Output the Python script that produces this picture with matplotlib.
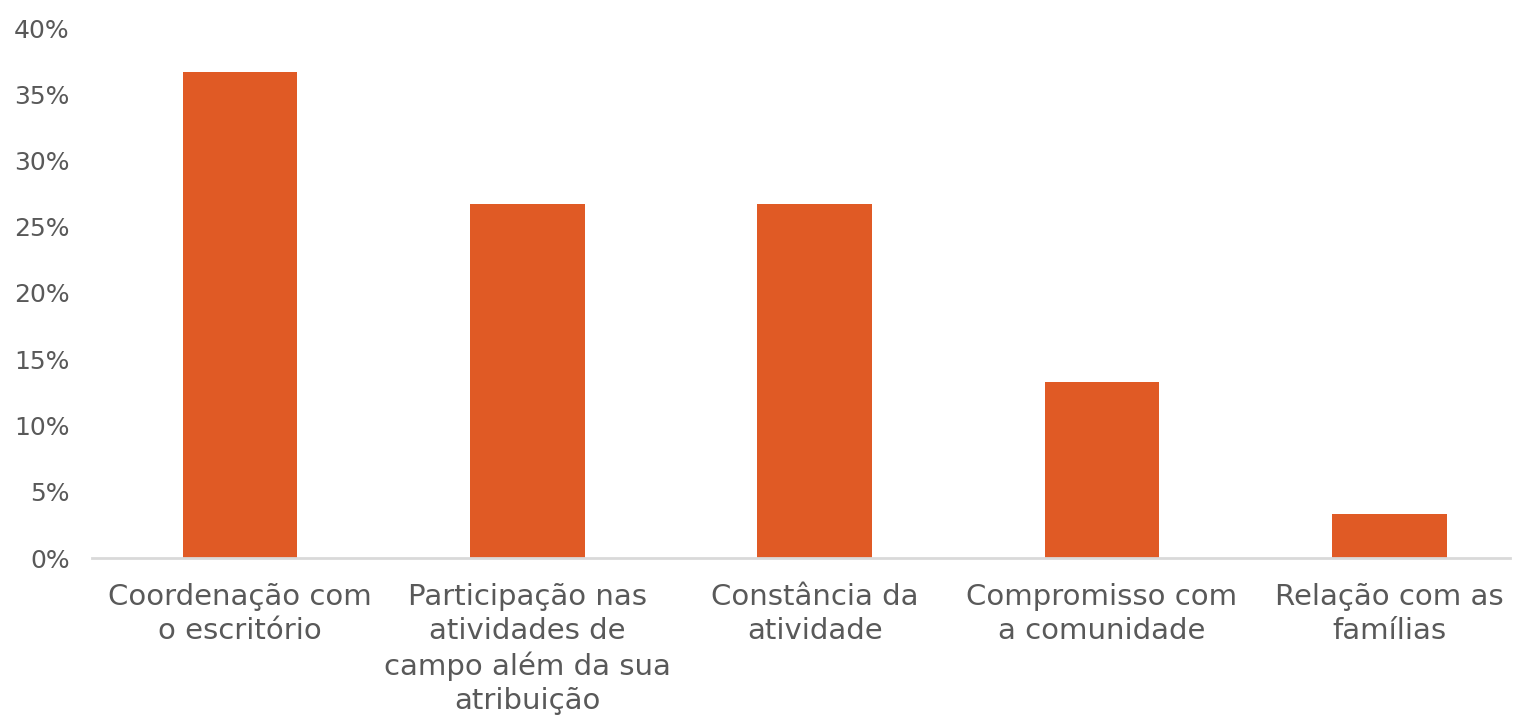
import matplotlib.pyplot as plt
from matplotlib.ticker import PercentFormatter

categories = [
    "Coordenação com\no escritório",
    "Participação nas\natividades de\ncampo além da sua\natribuição",
    "Constância da\natividade",
    "Compromisso com\na comunidade",
    "Relação com as\nfamílias",
]
values = [36.7, 26.7, 26.7, 13.3, 3.3]
yticks = [0, 5, 10, 15, 20, 25, 30, 35, 40]

BAR_COLOR = "#E05A25"
TEXT_COLOR = "#595959"

plt.rcParams["font.family"] = ["DejaVu Sans"]

fig = plt.figure(figsize=(15.15, 7.15), dpi=100)
ax = fig.add_axes([92 / 1515, 1 - 558 / 715, (1510 - 92) / 1515, (558 - 28) / 715])

x = range(len(categories))
ax.bar(x, values, width=0.40, color=BAR_COLOR, edgecolor="none", zorder=2)

ax.set_xlim(-0.515, 4.42)
ax.set_ylim(0, 40)
ax.set_yticks(yticks)
ax.yaxis.set_major_formatter(PercentFormatter(decimals=0))
ax.set_xticks(list(x))
ax.set_xticklabels(categories, linespacing=1.27)

for s in ["top", "right", "left"]:
    ax.spines[s].set_visible(False)
ax.spines["bottom"].set_color("#D9D9D9")
ax.spines["bottom"].set_linewidth(2)

ax.tick_params(axis="both", length=0, colors=TEXT_COLOR)
ax.tick_params(axis="x", pad=18, labelsize=21)
ax.tick_params(axis="y", pad=16, labelsize=18)

fig.savefig("out.png", dpi=100, facecolor="white")
